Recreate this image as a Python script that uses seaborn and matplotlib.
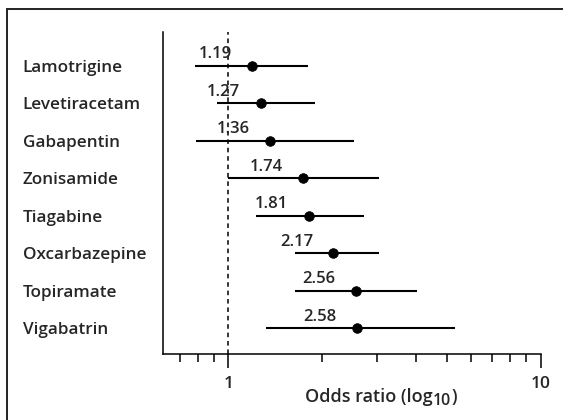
import numpy as np
import pandas as pd
import matplotlib
matplotlib.use("Agg")
import matplotlib.pyplot as plt
import seaborn as sns
from matplotlib.patches import Rectangle
from matplotlib.ticker import FixedLocator, FixedFormatter, NullFormatter

# Antiepileptic drugs with odds ratios and 95% confidence limits
drugs = ["Lamotrigine", "Levetiracetam", "Gabapentin", "Zonisamide",
         "Tiagabine", "Oxcarbazepine", "Topiramate", "Vigabatrin"]
odds_ratio = [1.19, 1.27, 1.36, 1.74, 1.81, 2.17, 2.56, 2.58]
ci_low = [0.78, 0.92, 0.79, 1.00, 1.23, 1.64, 1.64, 1.32]
ci_high = [1.80, 1.90, 2.52, 3.03, 2.72, 3.03, 4.03, 5.33]

major_ticks = [1, 10]
major_labels = ["1", "10"]
minor_ticks = [0.7, 0.8, 0.9, 2, 3, 4, 5, 6, 7, 8, 9]

sns.set_style("ticks")
plt.rcParams["font.family"] = ["Open Sans", "DejaVu Sans"]
plt.rcParams["font.weight"] = "semibold"

FS = 12
df = pd.DataFrame({"drug": drugs, "odds_ratio": odds_ratio,
                   "ci_low": ci_low, "ci_high": ci_high})
df["row"] = np.arange(len(df))

W, H = 563, 420
fig = plt.figure(figsize=(W / 100, H / 100), dpi=100)
ax = fig.add_axes([163.3 / W, 1 - 354 / H, (540.7 - 163.3) / W, (354 - 31.7) / H])

# confidence intervals and point estimates
ax.hlines(df["row"], df["ci_low"], df["ci_high"], color="black", lw=1.5, zorder=2)
sns.scatterplot(data=df, x="odds_ratio", y="row", ax=ax, color="black",
                edgecolor="black", s=48, zorder=3, legend=False)

ax.set_xscale("log")
ax.set_xlim(0.619, 10)
ax.set_ylim(7.69, -0.907)

# reference line at no effect
ax.axvline(1, color="black", lw=1.1, ls=(0, (3, 2.5)), zorder=1)

for _, r in df.iterrows():
    ax.annotate(f"{r['odds_ratio']:.2f}", (r["odds_ratio"], r["row"]),
                xytext=(-37, 7.5), textcoords="offset pixels",
                ha="center", va="baseline", fontsize=FS)

# axes styling
for side in ("top", "right"):
    ax.spines[side].set_visible(False)
for side in ("left", "bottom"):
    ax.spines[side].set_linewidth(1.1)
    ax.spines[side].set_color("black")

ax.xaxis.set_major_locator(FixedLocator(major_ticks))
ax.xaxis.set_major_formatter(FixedFormatter(major_labels))
ax.xaxis.set_minor_locator(FixedLocator(minor_ticks))
ax.xaxis.set_minor_formatter(NullFormatter())
ax.tick_params(axis="x", which="major", length=10, width=1.1, pad=6,
               labelsize=FS + 0.5, color="black")
ax.tick_params(axis="x", which="minor", length=5.8, width=1.1, color="black")

ax.set_yticks(df["row"])
ax.set_yticklabels(df["drug"], fontsize=FS + 0.3)
ax.tick_params(axis="y", length=0, pad=(163.3 - 22.7) * 0.72)
for lbl in ax.get_yticklabels():
    lbl.set_horizontalalignment("left")
ax.set_xlabel("")
ax.set_ylabel("")

# axis title with a large subscript: "Odds ratio (log" + "10" + ")"
XFS = 13
t1 = ax.text((305 - 163.3) / (540.7 - 163.3), -0.148, "Odds ratio (log",
             transform=ax.transAxes, ha="left", va="baseline", fontsize=XFS)
t2 = ax.annotate("10", xy=(1, 0), xycoords=t1, xytext=(0.5, -3),
                 textcoords="offset pixels", ha="left", va="bottom",
                 fontsize=XFS * 0.88)
ax.annotate(")", xy=(1, 0), xycoords=(t2, t1), xytext=(0.5, 0),
            textcoords="offset pixels", ha="left", va="bottom", fontsize=XFS)

# outer frame
fig.patches.append(Rectangle((7 / W, -0.1), 1.2, 1 - 9 / H + 0.1,
                             transform=fig.transFigure, fill=False,
                             lw=1.4, ec="#222222"))

fig.savefig("out.png", dpi=100)
